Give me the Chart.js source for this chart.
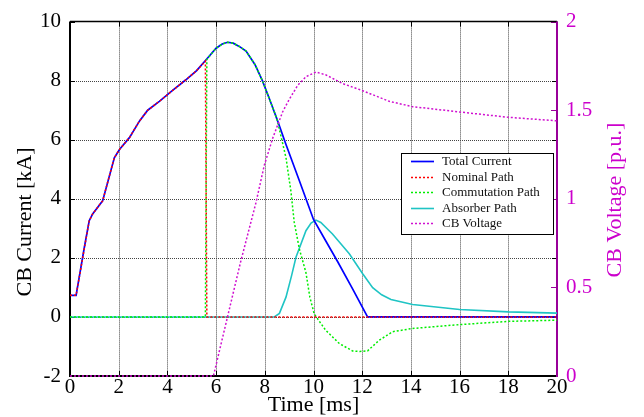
<!DOCTYPE html>
<html>
<head>
<meta charset="utf-8">
<script src="https://cdn.jsdelivr.net/npm/chart.js@4.4.1/dist/chart.umd.min.js"></script>
<style>
  html, body { margin: 0; padding: 0; background: #fff; }
  #wrap { width: 644px; height: 417px; }
</style>
</head>
<body>
<div id="wrap"><canvas id="cbChart" width="644" height="417"></canvas></div>
<script>
  // time [ms] / current [kA] of each path, voltage in p.u.
  var totalT = [0, 0.25, 0.59, 0.79, 0.93, 1.34, 1.82, 2.04, 2.44, 2.85, 3.19, 3.67, 4.2, 4.76, 5.2, 5.58, 6.0, 6.25, 6.47, 6.7, 6.95, 7.23, 7.6, 7.9, 8.2, 8.53, 8.87, 9.42, 10.0, 10.5, 11.0, 11.6, 12.22, 20];
  var totalI = [0.73, 0.73, 2.36, 3.26, 3.49, 3.93, 5.39, 5.68, 6.07, 6.63, 7.0, 7.3, 7.66, 8.03, 8.34, 8.7, 9.1, 9.24, 9.3, 9.27, 9.16, 9.0, 8.54, 8.0, 7.36, 6.63, 5.84, 4.61, 3.3, 2.58, 1.86, 0.96, 0, 0];

  var nominalT = [0, 0.25, 0.79, 0.93, 1.34, 1.82, 2.04, 2.44, 2.85, 3.19, 3.67, 4.2, 4.76, 5.2, 5.56, 5.62, 20];
  var nominalI = [0.73, 0.73, 3.26, 3.49, 3.93, 5.39, 5.68, 6.07, 6.63, 7.0, 7.3, 7.66, 8.03, 8.34, 8.66, 0, 0];

  var commT = [0, 5.56, 5.62, 6.0, 6.25, 6.47, 6.7, 6.95, 7.23, 7.6, 7.9, 8.2, 8.5, 8.87, 9.07, 9.21, 9.42, 9.69, 9.85, 10.03, 10.5, 11.06, 11.6, 11.9, 12.22, 12.7, 13.25, 14.07, 16, 18, 20];
  var commI = [0, 0, 8.72, 9.1, 9.24, 9.3, 9.27, 9.16, 9.0, 8.54, 8.0, 7.36, 6.7, 5.39, 4.27, 3.2, 2.3, 1.5, 0.67, 0.1, -0.45, -0.9, -1.15, -1.17, -1.15, -0.79, -0.5, -0.39, -0.26, -0.15, -0.11];

  var absT = [0, 8.39, 8.6, 8.87, 9.1, 9.28, 9.69, 9.9, 10.1, 10.3, 10.78, 11.47, 12.02, 12.43, 12.8, 13.18, 14.07, 16, 18, 20];
  var absI = [0, 0, 0.12, 0.67, 1.4, 2.02, 2.92, 3.18, 3.28, 3.2, 2.81, 2.14, 1.46, 0.99, 0.75, 0.59, 0.42, 0.25, 0.17, 0.13];

  var voltT = [0, 5.89, 7.0, 7.64, 7.98, 8.32, 8.73, 9.0, 9.35, 9.7, 10.1, 10.5, 11.2, 12.02, 13.11, 14.07, 16, 18, 20];
  var voltV = [0, 0, 0.64, 0.98, 1.19, 1.34, 1.49, 1.56, 1.64, 1.69, 1.715, 1.7, 1.65, 1.61, 1.55, 1.52, 1.49, 1.46, 1.44];

  var SERIF = "'Liberation Serif', 'DejaVu Serif', serif";
  var MAGENTA = "#cc00cc";
  var AXIS_PURPLE = "#990099";

  function pts(xs, ys) {
    return xs.map(function (x, i) { return { x: x, y: ys[i] }; });
  }

  function series(label, xs, ys, color, dash, axis, order, width) {
    return {
      label: label,
      data: pts(xs, ys),
      borderColor: color,
      backgroundColor: color,
      borderWidth: width,
      borderDash: dash,
      pointRadius: 0,
      tension: 0,
      yAxisID: axis,
      order: order,
      clip: 4,
    };
  }

  // dotted grid, axes frame and inward ticks (drawn under the traces)
  var framePlugin = {
    id: "frame",
    beforeDatasetsDraw: function (chart) {
      var ctx = chart.ctx, a = chart.chartArea;
      var sx = chart.scales.x, sy = chart.scales.y, sv = chart.scales.yV;
      ctx.save();

      ctx.lineWidth = 1;
      ctx.strokeStyle = "#444";
      ctx.setLineDash([1, 1]);
      ctx.beginPath();
      sx.ticks.forEach(function (t) {
        if (t.value <= sx.min || t.value >= sx.max) return;
        var px = Math.round(sx.getPixelForValue(t.value)) + 0.5;
        ctx.moveTo(px, a.top); ctx.lineTo(px, a.bottom);
      });
      sy.ticks.forEach(function (t) {
        if (t.value <= sy.min || t.value >= sy.max) return;
        var py = Math.round(sy.getPixelForValue(t.value)) + 0.5;
        ctx.moveTo(a.left, py); ctx.lineTo(a.right, py);
      });
      ctx.stroke();

      ctx.setLineDash([]);
      ctx.strokeStyle = "#000";
      ctx.beginPath();
      sx.ticks.forEach(function (t) {
        var px = Math.round(sx.getPixelForValue(t.value)) + 0.5;
        ctx.moveTo(px, a.top); ctx.lineTo(px, a.top + 5);
        ctx.moveTo(px, a.bottom); ctx.lineTo(px, a.bottom - 5);
      });
      sy.ticks.forEach(function (t) {
        var py = Math.round(sy.getPixelForValue(t.value)) + 0.5;
        ctx.moveTo(a.left, py); ctx.lineTo(a.left + 5, py);
        ctx.moveTo(a.right, py); ctx.lineTo(a.right - 5, py);
      });
      ctx.stroke();
      ctx.strokeStyle = AXIS_PURPLE;
      ctx.beginPath();
      sv.ticks.forEach(function (t) {
        var py = Math.round(sv.getPixelForValue(t.value)) + 0.5;
        ctx.moveTo(a.right, py); ctx.lineTo(a.right - 6, py);
      });
      ctx.stroke();

      ctx.strokeStyle = "#000";
      ctx.lineWidth = 1.5;
      ctx.beginPath();
      ctx.moveTo(a.left, a.top); ctx.lineTo(a.right, a.top);
      ctx.stroke();
      ctx.lineWidth = 2;
      ctx.beginPath();
      ctx.moveTo(a.left, a.top); ctx.lineTo(a.left, a.bottom); ctx.lineTo(a.right, a.bottom);
      ctx.stroke();
      ctx.strokeStyle = AXIS_PURPLE;
      ctx.beginPath();
      ctx.moveTo(a.right, a.top); ctx.lineTo(a.right, a.bottom + 1);
      ctx.stroke();
      ctx.restore();
    },
    afterDraw: function (chart) {
      var ctx = chart.ctx, a = chart.chartArea;
      ctx.save();
      ctx.setLineDash([]);

      // axis titles
      ctx.font = "22px " + SERIF;
      ctx.fillStyle = "#000";
      ctx.textAlign = "center";
      ctx.textBaseline = "alphabetic";
      ctx.fillText("Time [ms]", (a.left + a.right) / 2, 411);

      ctx.save();
      ctx.translate(31, 222);
      ctx.rotate(-Math.PI / 2);
      ctx.fillText("CB Current [kA]", 0, 0);
      ctx.restore();

      ctx.save();
      ctx.translate(621, 200);
      ctx.rotate(-Math.PI / 2);
      ctx.fillStyle = MAGENTA;
      ctx.fillText("CB Voltage [p.u.]", 0, 0);
      ctx.restore();

      // legend box
      var lx = 401, ly = 153, lw = 152, lh = 81;
      ctx.fillStyle = "#fff";
      ctx.fillRect(lx, ly, lw, lh);
      ctx.lineWidth = 1;
      ctx.strokeStyle = "#000";
      ctx.strokeRect(lx + 0.5, ly + 0.5, lw, lh);
      ctx.font = "13px " + SERIF;
      ctx.textAlign = "left";
      ctx.textBaseline = "middle";
      chart.data.datasets.forEach(function (ds, i) {
        var y = Math.round(ly + 8 + i * 15.5) + 0.5;
        ctx.strokeStyle = ds.borderColor;
        ctx.lineWidth = ds.borderWidth;
        ctx.setLineDash(ds.borderDash);
        ctx.beginPath();
        ctx.moveTo(lx + 10, y); ctx.lineTo(lx + 33, y);
        ctx.stroke();
        ctx.setLineDash([]);
        ctx.fillStyle = "#111";
        ctx.fillText(ds.label, lx + 41, y + 0.5);
      });
      ctx.restore();
    },
  };

  var ctx = document.getElementById("cbChart").getContext("2d");
  new Chart(ctx, {
    type: "line",
    data: {
      datasets: [
        series("Total Current", totalT, totalI, "#0000ff", [], "y", 4, 1.7),
        series("Nominal Path", nominalT, nominalI, "#ff0000", [2, 2], "y", 2, 1.5),
        series("Commutation Path", commT, commI, "#00ee00", [2, 2], "y", 3, 1.5),
        series("Absorber Path", absT, absI, "#1fc4c4", [], "y", 5, 1.6),
        series("CB Voltage", voltT, voltV, "#d010d0", [2, 2], "yV", 1, 1.5),
      ],
    },
    options: {
      responsive: false,
      animation: false,
      devicePixelRatio: 1,
      layout: { padding: { top: 20, left: 0, right: 0, bottom: 0 } },
      plugins: {
        legend: { display: false },
        tooltip: { enabled: false },
      },
      scales: {
        x: {
          type: "linear",
          min: 0,
          max: 20,
          ticks: { stepSize: 2, color: "#000", font: { family: SERIF, size: 21 }, padding: -1, maxRotation: 0 },
          grid: { display: false, drawTicks: false },
          border: { display: false },
          afterFit: function (s) { s.height = 41; },
        },
        y: {
          position: "left",
          min: -2,
          max: 10,
          ticks: { stepSize: 2, color: "#000", font: { family: SERIF, size: 21 }, padding: 9 },
          grid: { display: false, drawTicks: false },
          border: { display: false },
          afterFit: function (s) { s.width = 70; },
        },
        yV: {
          position: "right",
          min: 0,
          max: 2,
          ticks: {
            stepSize: 0.5,
            color: MAGENTA,
            font: { family: SERIF, size: 21 },
            padding: 9,
            callback: function (v) { return String(v); },
          },
          grid: { display: false, drawTicks: false },
          border: { display: false },
          afterFit: function (s) { s.width = 87; },
        },
      },
    },
    plugins: [framePlugin],
  });
</script>
</body>
</html>
